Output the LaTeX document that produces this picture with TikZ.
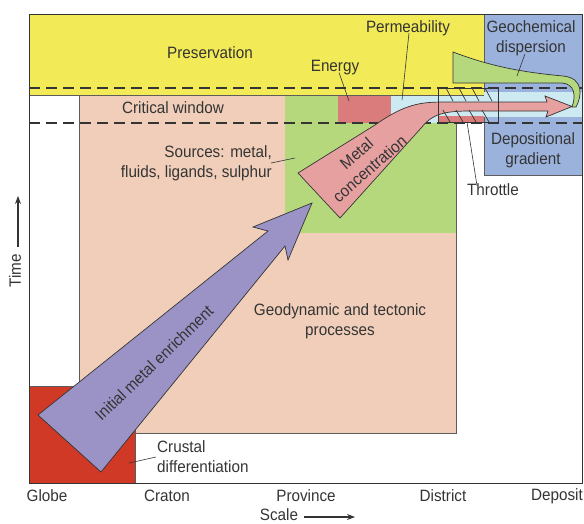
\documentclass[tikz,border=0pt]{standalone}
\usepackage{fontspec}
\setmainfont{Liberation Sans}[FakeStretch=0.93]
\usetikzlibrary{positioning,arrows.meta}

\definecolor{ink}{RGB}{52,52,52}
\definecolor{presyellow}{RGB}{242,234,86}
\definecolor{peach}{RGB}{240,206,185}
\definecolor{leaf}{RGB}{182,216,125}
\definecolor{energyred}{RGB}{219,124,124}
\definecolor{paleblue}{RGB}{205,234,242}
\definecolor{dispblue}{RGB}{155,178,220}
\definecolor{crustred}{RGB}{207,57,38}
\definecolor{enrichpurple}{RGB}{155,147,198}
\definecolor{concpink}{RGB}{230,160,160}

\begin{document}
\begin{tikzpicture}[x=1pt,y=-1pt,
  lbl/.style={text=ink,font=\fontsize{16.4}{20}\selectfont,inner sep=0pt,align=center},
  leader/.style={draw=ink,line width=0.6pt},
  zone/.style={draw=ink!80,line width=0.5pt},
  window/.style={draw=ink,line width=1.5pt,dash pattern=on 11pt off 6pt},
  hatch/.style={draw=ink,line width=0.7pt},
  bigarrow/.style={draw=ink,line width=0.7pt,line join=miter},
  axisarrow/.style={draw=ink,line width=1.1pt,-{Stealth[length=8pt,width=6pt]}}]

\useasboundingbox (0,0) rectangle (584,523);

% zones
\fill[peach,zone] (79,95) rectangle (456,433);
\fill[leaf] (285,95) rectangle (456,233);
\fill[energyred] (338,95) rectangle (391,123);
\fill[paleblue] (391,95) rectangle (484,123);
\fill[energyred] (438,116) rectangle (484,123);
\fill[presyellow,zone] (29,14) rectangle (484,95);
\fill[dispblue,zone] (484,14) rectangle (582,175);
\fill[paleblue] (484.4,92) rectangle (581.6,117);
\fill[crustred,zone] (29,386) rectangle (135,483);
\draw[ink,line width=0.8pt] (29,14) rectangle (582,483);

% critical window
\draw[window] (29,88) -- (582,88);
\draw[window] (29,123) -- (582,123);

% metal concentration
\filldraw[concpink,bigarrow] (298,173) -- (375,125) .. controls (405,104) and (420,102) .. (445,102)
  -- (547,102) -- (545,96) -- (572,106.5) -- (546,117) -- (548,111) -- (470,111)
  .. controls (445,111) and (432,114) .. (422,127) -- (340,218) -- cycle;
\node[lbl,rotate=41] (conc) at (363,161) {Metal\\concentration};

% throttle
\draw[hatch] (438,88) rectangle (498,122);
\foreach \x in {446,459,472,485}{\draw[hatch] (\x,88) -- +(7,13);}
\foreach \x in {443,456,469,482}{\draw[hatch] (\x,110) -- +(7,12);}

% geochemical dispersion
\filldraw[leaf,bigarrow] (453,52) .. controls (490,66) and (520,72) .. (563,76)
  .. controls (584,78) and (582,96) .. (576,107) -- (572,107)
  .. controls (576,96) and (575,84) .. (562,83) -- (453,83) -- cycle;

% initial metal enrichment
\filldraw[enrichpurple,bigarrow] (38,415) -- (268,231) -- (253,227) -- (312,203)
  -- (288,260) -- (285,246) -- (101,472) -- cycle;
\node[lbl,rotate=44] (enrich) at (154,363) {Initial metal enrichment};

% labels
\node[lbl] (pres) at (210,53) {Preservation};
\node[lbl] (window) at (173,108) {Critical window};
\node[lbl,align=right,anchor=east] (sources) at (272,163) {Sources: metal,\\fluids, ligands, sulphur};
\node[lbl] (energy) at (335,68) {Energy};
\node[lbl] (perm) at (408,28) {Permeability};
\node[lbl] (geochem) at (531,38) {Geochemical\\dispersion};
\node[lbl] (depo) at (533,150) {Depositional\\gradient};
\node[lbl] (throttle) at (493,190) {Throttle};
\node[lbl] (geodyn) at (340,321) {Geodynamic and tectonic\\processes};
\node[lbl,align=left,anchor=west] (crustal) at (157,457) {Crustal\\differentiation};

\coordinate (sourcesend) at (295,158);
\coordinate (energyend) at (349,101);
\coordinate (permend) at (402,100);
\coordinate (geochemend) at (517,76);
\coordinate (throttleend) at (467,122);
\coordinate (crustalend) at (129,463);
\draw[leader] ([xshift=-1pt]sources.east) -- (sourcesend);
\draw[leader] ([xshift=4pt,yshift=3pt]energy.south) -- (energyend);
\draw[leader] ([xshift=1pt,yshift=3pt]perm.south) -- (permend);
\draw[leader] ([xshift=-6pt,yshift=2pt]geochem.south) -- (geochemend);
\draw[leader] ([xshift=-16pt,yshift=-2pt]throttle.north) -- (throttleend);
\draw[leader] ([xshift=-1pt]crustal.west) -- (crustalend);

% axes
\node[lbl] (globe) at (47,496) {Globe};
\node[lbl] (craton) at (167,496) {Craton};
\node[lbl] (province) at (306,496) {Province};
\node[lbl] (district) at (443,496) {District};
\node[lbl] (deposit) at (557,496) {Deposit};
\node[lbl] (scale) at (279,515) {Scale};
\node[lbl,rotate=90] (time) at (15,271) {Time};
\coordinate (scaletip) at (355,517);
\coordinate (timetip) at (18,196);
\draw[axisarrow] ([xshift=6pt,yshift=-2pt]scale.east) -- (scaletip);
\draw[axisarrow] ([xshift=3pt,yshift=7pt]time.east) -- (timetip);
\end{tikzpicture}
\end{document}
